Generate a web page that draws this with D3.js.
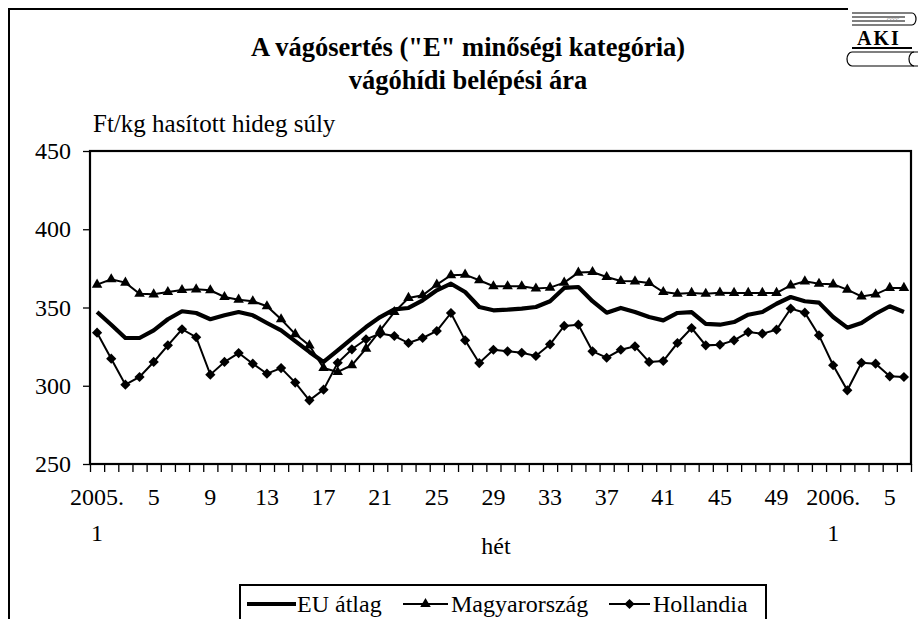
<!DOCTYPE html>
<html>
<head>
<meta charset="utf-8">
<script src="https://cdn.jsdelivr.net/npm/d3@7"></script>
<style>
  html, body { margin: 0; padding: 0; background: #fff; }
  svg { display: block; }
  svg text { font-family: "Liberation Serif", "Times New Roman", serif; }
</style>
</head>
<body>
<svg id="chart" width="920" height="619"></svg>
<script>
// ---------- data ----------
const categories = [
  "2005.1","2005.2","2005.3","2005.4","2005.5","2005.6","2005.7","2005.8","2005.9","2005.10",
  "2005.11","2005.12","2005.13","2005.14","2005.15","2005.16","2005.17","2005.18","2005.19","2005.20",
  "2005.21","2005.22","2005.23","2005.24","2005.25","2005.26","2005.27","2005.28","2005.29","2005.30",
  "2005.31","2005.32","2005.33","2005.34","2005.35","2005.36","2005.37","2005.38","2005.39","2005.40",
  "2005.41","2005.42","2005.43","2005.44","2005.45","2005.46","2005.47","2005.48","2005.49","2005.50",
  "2005.51","2005.52","2006.1","2006.2","2006.3","2006.4","2006.5","2006.6"
];
const euAtlag = [
  347.1,339.0,330.5,330.5,335.4,342.5,347.6,346.5,342.5,345.0,
  347.1,345.0,340.1,335.4,328.5,321.6,315.2,322.6,330.1,337.5,
  343.9,348.8,349.7,354.6,361.0,365.2,359.9,350.3,348.2,348.6,
  349.3,350.3,354.0,362.5,363.1,354.0,346.7,349.7,347.1,343.9,
  341.8,346.5,347.1,339.5,339.0,340.7,345.4,347.1,352.4,356.7,
  354.0,353.1,343.9,337.1,340.1,346.0,350.8,347.1
];
const magyarorszag = [
  364.6,368.0,365.9,358.8,358.4,359.9,361.2,361.6,361.0,356.7,
  355.0,354.0,350.8,342.5,333.0,325.8,311.3,308.8,313.1,323.7,
  335.4,347.1,356.1,357.8,364.6,370.6,371.0,367.4,363.6,363.6,
  363.6,362.1,362.7,365.9,372.3,372.7,369.5,366.9,366.7,365.7,
  359.9,358.8,359.3,358.8,359.5,359.3,359.3,359.3,359.3,364.1,
  366.7,365.2,364.8,361.4,357.1,358.4,362.5,362.5
];
const hollandia = [
  333.9,317.3,300.7,305.6,315.2,325.8,336.1,331.0,307.1,315.2,
  320.9,314.1,307.7,311.3,302.0,290.7,297.5,314.7,323.3,329.7,
  333.3,331.8,327.3,330.5,335.0,346.5,329.0,314.5,323.0,322.0,
  321.1,319.0,326.5,338.2,339.0,322.0,317.9,323.0,325.2,315.2,
  315.8,327.3,336.9,325.8,326.2,329.0,334.3,333.3,335.8,349.3,
  346.7,332.2,313.1,297.1,314.7,314.1,306.0,305.6
];
const yTicks = [250, 300, 350, 400, 450];
const xLabelIdx = [0,4,8,12,16,20,24,28,32,36,40,44,48,52,56];
const xLabelText = ["2005.|1","5","9","13","17","21","25","29","33","37","41","45","49","2006.|1","5"];
const seriesNames = ["EU átlag", "Magyarország", "Hollandia"];
const titleLines = ["A vágósertés (\"E\" minőségi kategória)", "vágóhídi belépési ára"];
const unitLabel = "Ft/kg hasított hideg súly";
const xTitle = "hét";

// ---------- layout ----------
const FONT = "Liberation Serif, Times New Roman, serif";
const svg = d3.select("#chart");
const L = 90, R = 911, T = 151, B = 464;

const x = d3.scaleBand().domain(categories).range([L, R]).padding(0);
const xEdge = d3.scaleLinear().domain([0, categories.length]).range([L, R]);
const y = d3.scaleLinear().domain([250, 450]).range([B, T]);

// outer frame
svg.append("path")
  .attr("d", `M9,625 L9,9 L848,9`)
  .attr("fill", "none").attr("stroke", "#000").attr("stroke-width", 2);

// logo (AKI)
const logo = svg.append("g").attr("fill", "none").attr("stroke", "#000").attr("stroke-width", 1.2);
logo.append("path").attr("d", "M852,13 L912,13 M852,25 L912,25 M852,17 L905,17 M852,21 L905,21");
logo.append("path").attr("d", "M912,13 A4,6 0 0 1 912,25");
logo.append("text").attr("x", 893).attr("y", 21).attr("font-size", 7).attr("stroke", "none")
  .attr("fill", "#888").attr("text-anchor", "middle").attr("font-family", FONT).text("cccc");
logo.append("text").attr("x", 879).attr("y", 45).attr("font-size", 20).attr("font-weight", "bold")
  .attr("font-family", FONT)
  .attr("stroke", "none").attr("fill", "#000").attr("text-anchor", "middle").attr("letter-spacing", 2).text("AKI");
logo.append("path").attr("d", "M852,48 L912,48").attr("stroke-width", 2);
logo.append("path").attr("d", "M852,52 L918,52 M852,66 L918,66");
logo.append("path").attr("d", "M852,52 A5,7 0 0 0 852,66");
logo.append("path").attr("d", "M914,52 A5,7 0 0 0 914,66");

// title
svg.append("text").attr("x", 468).attr("y", 56).attr("text-anchor", "middle").attr("font-family", FONT)
  .attr("font-size", 26.5).attr("font-weight", "bold").text(titleLines[0]);
svg.append("text").attr("x", 468).attr("y", 89).attr("text-anchor", "middle").attr("font-family", FONT)
  .attr("font-size", 26.5).attr("font-weight", "bold").text(titleLines[1]);
svg.append("text").attr("x", 93).attr("y", 132).attr("font-size", 25).attr("font-family", FONT).text(unitLabel);

// y axis
const yAxis = svg.append("g").attr("transform", `translate(${L},0)`)
  .call(d3.axisLeft(y).tickValues(yTicks).tickSize(7).tickPadding(12).tickFormat(d3.format("d")));
yAxis.attr("font-family", FONT);
yAxis.select(".domain").remove();
yAxis.selectAll(".tick line").attr("stroke", "#000").attr("stroke-width", 1.3);
yAxis.selectAll(".tick text").attr("font-size", 24).attr("fill", "#000").attr("font-family", FONT);

// x axis ticks at category edges
const xAxis = svg.append("g").attr("transform", `translate(0,${B})`)
  .call(d3.axisBottom(xEdge).tickValues(d3.range(categories.length + 1)).tickSize(8).tickFormat(""));
xAxis.select(".domain").remove();
xAxis.selectAll(".tick line").attr("stroke", "#000").attr("stroke-width", 1.3);

// x labels
const xl = svg.append("g").attr("font-size", 24).attr("text-anchor", "middle").attr("font-family", FONT);
xLabelIdx.forEach((idx, k) => {
  const cx = x(categories[idx]) + x.bandwidth() / 2;
  const parts = xLabelText[k].split("|");
  xl.append("text").attr("x", cx).attr("y", 505).text(parts[0]);
  if (parts[1]) xl.append("text").attr("x", cx).attr("y", 541).text(parts[1]);
});
svg.append("text").attr("x", 496).attr("y", 554).attr("text-anchor", "middle").attr("font-family", FONT)
  .attr("font-size", 24).text(xTitle);

// plot frame
svg.append("rect").attr("x", L).attr("y", T).attr("width", R - L).attr("height", B - T)
  .attr("fill", "none").attr("stroke", "#000").attr("stroke-width", 2.2);

// lines
const cx = (d, i) => x(categories[i]) + x.bandwidth() / 2;
const line = d3.line().x((d, i) => cx(d, i)).y(d => y(d));

svg.append("path").datum(magyarorszag).attr("d", line)
  .attr("fill", "none").attr("stroke", "#000").attr("stroke-width", 2);
svg.append("path").datum(hollandia).attr("d", line)
  .attr("fill", "none").attr("stroke", "#000").attr("stroke-width", 2);
svg.append("path").datum(euAtlag).attr("d", line)
  .attr("fill", "none").attr("stroke", "#000").attr("stroke-width", 4.2).attr("stroke-linejoin", "round");

const tri = d3.symbol().type(d3.symbolTriangle).size(48);
const dia = d3.symbol().type(d3.symbolSquare).size(52);
svg.append("g").selectAll("path").data(magyarorszag).join("path")
  .attr("d", tri).attr("transform", (d, i) => `translate(${cx(d, i)},${y(d)})`).attr("fill", "#000");
svg.append("g").selectAll("path").data(hollandia).join("path")
  .attr("d", dia).attr("transform", (d, i) => `translate(${cx(d, i)},${y(d)}) rotate(45)`).attr("fill", "#000");

// legend
const lg = svg.append("g").attr("font-family", FONT);
lg.append("rect").attr("x", 240).attr("y", 585).attr("width", 526).attr("height", 50)
  .attr("fill", "#fff").attr("stroke", "#000").attr("stroke-width", 2);
const ly = 604;
lg.append("line").attr("x1", 247).attr("x2", 296).attr("y1", ly).attr("y2", ly)
  .attr("stroke", "#000").attr("stroke-width", 4.2);
lg.append("text").attr("x", 297).attr("y", ly + 8).attr("font-size", 24).text(seriesNames[0]);
lg.append("line").attr("x1", 403).attr("x2", 448).attr("y1", ly).attr("y2", ly)
  .attr("stroke", "#000").attr("stroke-width", 2);
lg.append("path").attr("d", tri).attr("transform", `translate(425.5,${ly})`);
lg.append("text").attr("x", 451).attr("y", ly + 8).attr("font-size", 24).text(seriesNames[1]);
lg.append("line").attr("x1", 609).attr("x2", 650).attr("y1", ly).attr("y2", ly)
  .attr("stroke", "#000").attr("stroke-width", 2);
lg.append("path").attr("d", dia).attr("transform", `translate(629.5,${ly}) rotate(45)`);
lg.append("text").attr("x", 653).attr("y", ly + 8).attr("font-size", 24).text(seriesNames[2]);
</script>
</body>
</html>
